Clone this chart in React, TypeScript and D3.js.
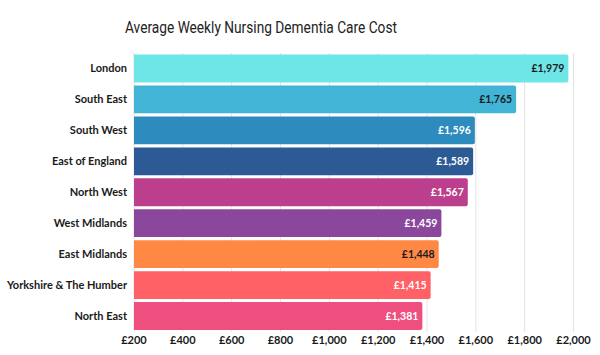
import React from "react";
import * as d3 from "d3";

const categories = [
  "London",
  "South East",
  "South West",
  "East of England",
  "North West",
  "West Midlands",
  "East Midlands",
  "Yorkshire & The Humber",
  "North East",
];
const values = [1979, 1765, 1596, 1589, 1567, 1459, 1448, 1415, 1381];
const colors = [
  "#6ee6e8",
  "#42b5d6",
  "#2d8bbd",
  "#2c5a94",
  "#bc3f8d",
  "#8a479b",
  "#ff8845",
  "#ff6166",
  "#ef4f7e",
];
const labelColors = ["#1a1a1a", "#1a1a1a", "#fff", "#fff", "#fff", "#fff", "#1a1a1a", "#fff", "#fff"];
const ticks = [200, 400, 600, 800, 1000, 1200, 1400, 1600, 1800, 2000];
const title = "Average Weekly Nursing Dementia Care Cost";

const fmt = (v: number) => "£" + d3.format(",")(v);

export default function App() {
  const W = 600;
  const H = 355;
  const x = d3.scaleLinear().domain([200, 2000]).range([134, 573.5]);
  const y = d3
    .scaleBand<string>()
    .domain(categories)
    .range([53, 331.5])
    .paddingInner(0.1)
    .paddingOuter(0.05);
  const bw = y.bandwidth();
  const r = 2;
  const barPath = (x0: number, x1: number, y0: number, h: number) => {
    const p = d3.path();
    p.moveTo(x0, y0);
    p.lineTo(x1 - r, y0);
    p.arcTo(x1, y0, x1, y0 + r, r);
    p.lineTo(x1, y0 + h - r);
    p.arcTo(x1, y0 + h, x1 - r, y0 + h, r);
    p.lineTo(x0, y0 + h);
    p.closePath();
    return p.toString();
  };
  return (
    <svg
      width={W}
      height={H}
      style={{ position: "absolute", left: 0, top: 0, background: "#fff" }}
      fontFamily="Lato, 'Open Sans', sans-serif"
    >
      <text
        x={125}
        y={32.5}
        textAnchor="start"
        fontSize={16}
        fontFamily="Roboto, sans-serif"
        textLength={272}
        lengthAdjust="spacingAndGlyphs"
        fill="#222"
      >
        {title}
      </text>
      {ticks.map((t) => (
        <line
          key={"g" + t}
          x1={x(t)}
          x2={x(t)}
          y1={53}
          y2={332}
          stroke="#e3e3e3"
          strokeWidth={1}
        />
      ))}
      {categories.map((c, i) => {
        const y0 = y(c)!;
        return (
          <g key={c}>
            <path d={barPath(x(200), x(values[i]), y0, bw)} fill={colors[i]} />
            <text
              x={127}
              y={y0 + bw / 2}
              dy="0.35em"
              textAnchor="end"
              fontSize={11}
              fontWeight="bold"
              fill="#1a1a1a"
            >
              {c}
            </text>
            <text
              x={x(values[i]) - 4}
              y={y0 + bw / 2}
              dy="0.35em"
              textAnchor="end"
              fontSize={10.5}
              fontWeight="bold"
              fill={labelColors[i]}
            >
              {fmt(values[i])}
            </text>
          </g>
        );
      })}
      {ticks.map((t) => (
        <text
          key={"t" + t}
          x={x(t)}
          y={340}
          dy="0.35em"
          textAnchor="middle"
          fontSize={11}
          fontWeight="bold"
          fill="#1a1a1a"
        >
          {fmt(t)}
        </text>
      ))}
    </svg>
  );
}
